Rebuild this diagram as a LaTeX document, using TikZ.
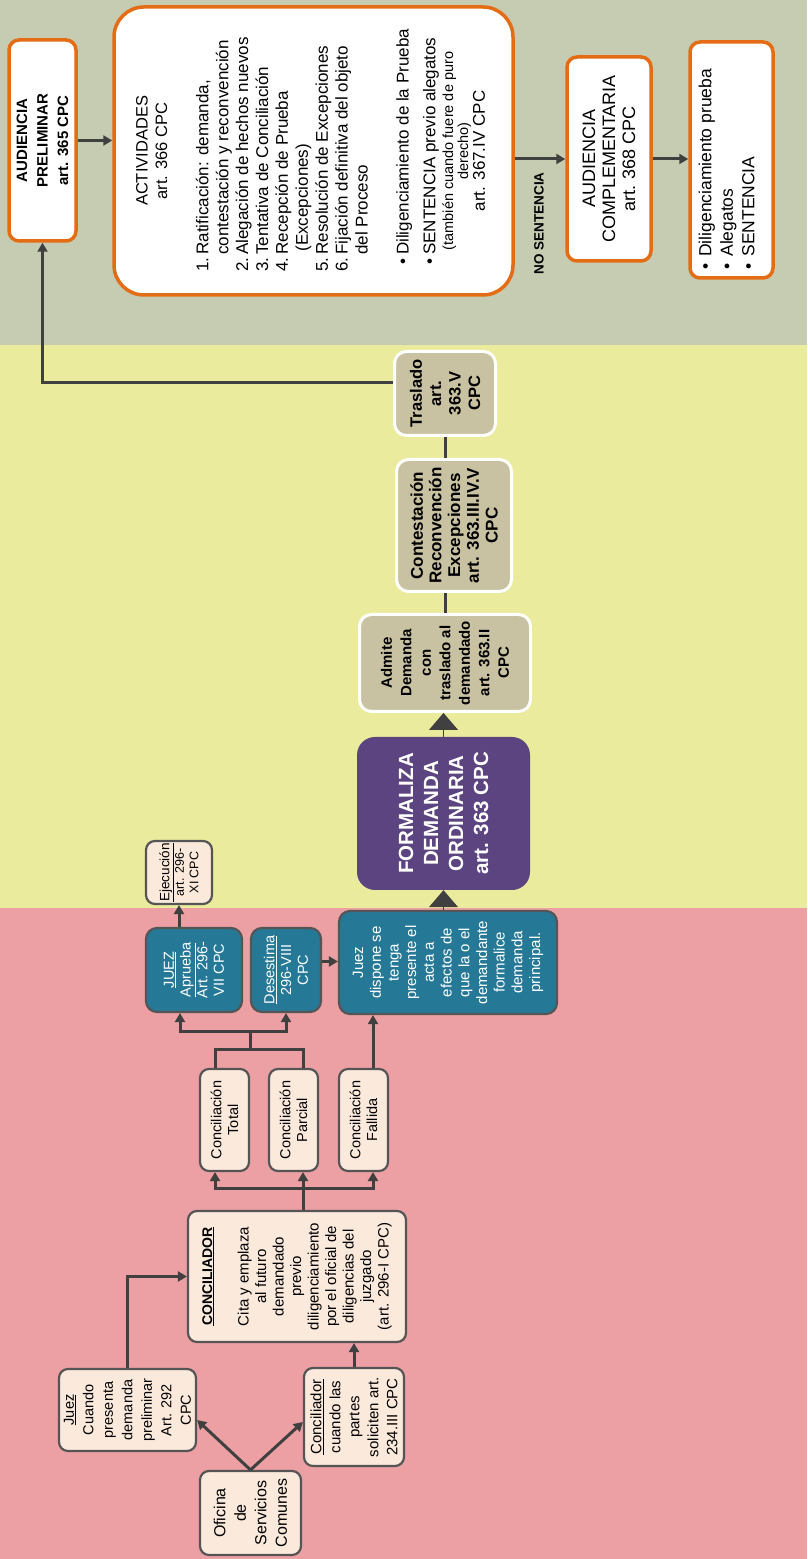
\documentclass[tikz,border=0pt]{standalone}
\usepackage{fontspec}
\setmainfont{Liberation Sans}
\usetikzlibrary{arrows.meta,calc}
\definecolor{mypink}{RGB}{236,160,164}
\definecolor{myyellow}{RGB}{235,235,158}
\definecolor{mysage}{RGB}{197,204,178}
\definecolor{mypeach}{RGB}{251,233,220}
\definecolor{myborder}{RGB}{85,85,85}
\definecolor{myteal}{RGB}{38,121,150}
\definecolor{mypurple}{RGB}{91,68,128}
\definecolor{mytan}{RGB}{201,194,162}
\definecolor{myorange}{RGB}{228,108,20}
\definecolor{myarrow}{RGB}{64,64,64}
\newcommand{\fsz}[2]{\fontsize{#1}{#2}\selectfont}

\begin{document}
\begin{tikzpicture}[x=1pt,y=1pt]
\tikzset{BaseStyle/.style ={rotate=90, align=center, inner sep=1pt}}
\tikzset{PeachStyle/.style ={BaseStyle, draw=myborder, fill=mypeach, line width=2.2pt, rounded corners=9pt}}
\tikzset{TealStyle/.style ={BaseStyle, draw=myborder, fill=myteal, text=white, line width=2.2pt, rounded corners=11pt}}
\tikzset{TanStyle/.style ={BaseStyle, draw=white, fill=mytan, line width=3pt, rounded corners=12pt}}
\tikzset{OrangeStyle/.style ={BaseStyle, draw=myorange, fill=white, line width=3.5pt, rounded corners=10pt}}
\tikzset{TextStyle/.style ={rotate=90, inner sep=0pt}}
\tikzset{EdgeStyle/.style ={draw=myarrow, line width=3pt, -{Triangle[length=9pt,width=10pt]}}}
\tikzset{LinkStyle/.style ={draw=myarrow, line width=3pt}}
\tikzset{BigEdgeStyle/.style ={draw=myarrow, line width=1pt, -{Triangle[length=17pt,width=29pt]}}}

\useasboundingbox (0,0) rectangle (807,1559);
\fill[mypink] (0,0) rectangle (807,651);
\fill[myyellow] (0,651) rectangle (807,1214);
\fill[mysage] (0,1214) rectangle (807,1559);

\node[PeachStyle, minimum width=84, minimum height=101, font=\fsz{16}{20.5}] (ofi) at (250.5,46) {Oficina\\de\\Servicios\\Comunes};
\node[PeachStyle, minimum width=82, minimum height=137, font=\fsz{14.5}{19.5}] (juez) at (127.5,149) {\underline{Juez}\\Cuando\\presenta\\demanda\\preliminar\\Art. 292\\CPC};
\node[PeachStyle, minimum width=98, minimum height=100, font=\fsz{15}{19}] (cil) at (354,142) {\underline{Conciliador}\\cuando las\\partes\\soliciten art.\\234.III CPC};
\node[PeachStyle, minimum width=131, minimum height=218, font=\fsz{15}{17.5}] (conc) at (297,282.5) {{\fsz{14}{17.5}\underline{\textbf{CONCILIADOR}}}\\[19pt]Cita y emplaza\\al futuro\\demandado\\previo\\diligenciamiento\\por el oficial de\\diligencias del\\juzgado\\(art. 296-I CPC)};
\node[PeachStyle, minimum width=102, minimum height=49, font=\fsz{14.5}{16.7}] (ctot) at (224.5,439) {Conciliación\\Total};
\node[PeachStyle, minimum width=102, minimum height=49, font=\fsz{14.5}{16.7}] (cpar) at (293.5,439) {Conciliación\\Parcial};
\node[PeachStyle, minimum width=102, minimum height=49, font=\fsz{14.5}{16.7}] (cfal) at (363.5,439) {Conciliación\\Fallida};
\node[TealStyle, minimum width=84, minimum height=96, font=\fsz{14.5}{16.7}] (apr) at (194,589) {\underline{JUEZ}\\\underline{Aprueba}\\Art. 296-\\VII CPC};
\node[TealStyle, minimum width=84, minimum height=70, font=\fsz{14.5}{16.7}] (des) at (286,589) {\underline{Desestima}\\296-VIII\\CPC};
\node[TealStyle, minimum width=103, minimum height=218, font=\fsz{15}{17.7}] (disp) at (448,596.5) {Juez\\dispone se\\tenga\\presente el\\acta a\\efectos de\\que la o el\\demandante\\formalice\\demanda\\principal.};
\node[PeachStyle, minimum width=63, minimum height=66, font=\fsz{12.5}{14.5}] (eje) at (179,686.5) {{\fsz{13.5}{14.5}\underline{Ejecución}}\\art. 296-\\XI CPC};
\node[BaseStyle, fill=mypurple, rounded corners=18pt, text=white, minimum width=153, minimum height=173, font=\fsz{20.5}{25}\bfseries] (form) at (443.5,745.5) {FORMALIZA\\DEMANDA\\ORDINARIA\\art. 363 CPC};
\node[TanStyle, minimum width=97, minimum height=171, font=\fsz{15}{19.5}\bfseries] (adm) at (445,896) {Admite\\Demanda\\con\\traslado al\\demandado\\art. 363.II\\CPC};
\node[TanStyle, minimum width=132, minimum height=115, font=\fsz{17}{18.7}\bfseries] (cont) at (454,1033.5) {Contestación\\Reconvención\\Excepciones\\art. 363.III.IV.V\\CPC};
\node[TanStyle, minimum width=84, minimum height=101, font=\fsz{16.5}{19.4}\bfseries] (tras) at (445,1165.5) {Traslado\\art.\\363.V\\CPC};
\node[OrangeStyle, minimum width=201, minimum height=67, font=\fsz{15}{20.5}\bfseries] (aud) at (42.5,1418.5) {AUDIENCIA\\PRELIMINAR\\art. 365 CPC};
\node[OrangeStyle, rounded corners=30pt, minimum width=288, minimum height=399] (act) at (313.5,1408) {};
\node[TextStyle, align=center, font=\fsz{16.5}{19.5}] (acttit) at (151.7,1408) {ACTIVIDADES\\art. 366 CPC};
\node[TextStyle, anchor=west, font=\fsz{17}{19.9}] (actlst) at (284,1287) {\begin{tabular}{@{}l@{\hspace{3pt}}l@{}}
1. & Ratificación: demanda,\\
 & contestación y reconvención\\
2. & Alegación de hechos nuevos\\
3. & Tentativa de Conciliación\\
4. & Recepción de Prueba\\
 & \hspace{3pt}(Excepciones)\\
5. & Resolución de Excepciones\\
6. & Fijación definitiva del objeto\\
 & del Proceso
\end{tabular}};
\node[TextStyle, anchor=west, font=\fsz{17}{19.9}] (actbul) at (418,1294) {\begin{tabular}{@{}l@{\hspace{4pt}}l@{}}
\textbullet & Diligenciamiento de la Prueba\\[6.8pt]
\textbullet & SENTENCIA previo alegatos
\end{tabular}};
\node[TextStyle, align=center, font=\fsz{14.5}{15}] (actnota) at (456.7,1408) {(también cuando fuere de puro\\derecho)};
\node[TextStyle, font=\fsz{17}{19.9}] (actart) at (479,1408) {art. 367.IV CPC};
\node[TextStyle, font=\fsz{13.5}{16}\bfseries] (nosent) at (539,1335.5) {NO SENTENCIA};
\node[OrangeStyle, minimum width=204, minimum height=84, font=\fsz{18}{20}] (comp) at (609,1400) {AUDIENCIA\\COMPLEMENTARIA\\art. 368 CPC};
\node[OrangeStyle, minimum width=236, minimum height=83] (fin) at (731.5,1399) {};
\node[TextStyle, anchor=west, align=left, font=\fsz{17.5}{21.5}] (fintxt) at (726.5,1289) {\textbullet\hspace{7pt}Diligenciamiento prueba\\\textbullet\hspace{7pt}Alegatos\\\textbullet\hspace{7pt}SENTENCIA};

\draw[EdgeStyle] (ofi.east) -- ($(juez.south)+(0,-10)$);
\draw[EdgeStyle] (ofi.east) -- ($(cil.north)+(0,-5)$);
\draw[EdgeStyle] (juez.east) |- (conc.north);
\draw[EdgeStyle] (cil.east) -- (cil.east |- conc.west);

\coordinate (busA) at (303,370);
\draw[LinkStyle] (conc.east -| busA) -- (busA);
\draw[EdgeStyle] (busA) -| ($(ctot.west)+(-9.5,0)$);
\draw[EdgeStyle] (busA) -- ($(cpar.west)+(9.5,0)$);
\draw[EdgeStyle] (busA) -| ($(cfal.west)+(9.5,0)$);

\coordinate (busB) at (250,509);
\coordinate (busC) at (250,527);
\draw[LinkStyle] ($(ctot.east)+(-9.5,0)$) |- (busB) -| ($(cpar.east)+(9.5,0)$);
\draw[LinkStyle] (busB) -- (busC);
\draw[EdgeStyle] (busC) -| ($(apr.west)+(-14,0)$);
\draw[EdgeStyle] (busC) -| (des.west);
\coordinate (falA) at ($(cfal.east)+(9.5,0)$);
\draw[EdgeStyle] (falA) -- (falA |- disp.west);
\coordinate (desA) at ($(des.south)+(0,8.5)$);
\draw[EdgeStyle] (desA) -- (desA -| disp.north);
\draw[EdgeStyle] (eje.west |- apr.east) -- (eje.west);

\draw[BigEdgeStyle] (form.west |- disp.east) -- (form.west);
\draw[BigEdgeStyle] (form.east) -- (form.east |- adm.west);
\draw[LinkStyle] (adm.east) -- (adm.east |- cont.west);
\draw[LinkStyle] (tras.west |- cont.east) -- (tras.west);

\coordinate (trasA) at ($(tras.north)+(0,10.5)$);
\draw[EdgeStyle] (trasA) -| (aud.west);
\draw[EdgeStyle] (aud.south) -- (aud.south -| act.north);
\draw[EdgeStyle] (comp.north -| act.south) -- (comp.north);
\draw[EdgeStyle] (comp.south) -- (comp.south -| fin.north);
\end{tikzpicture}
\end{document}
